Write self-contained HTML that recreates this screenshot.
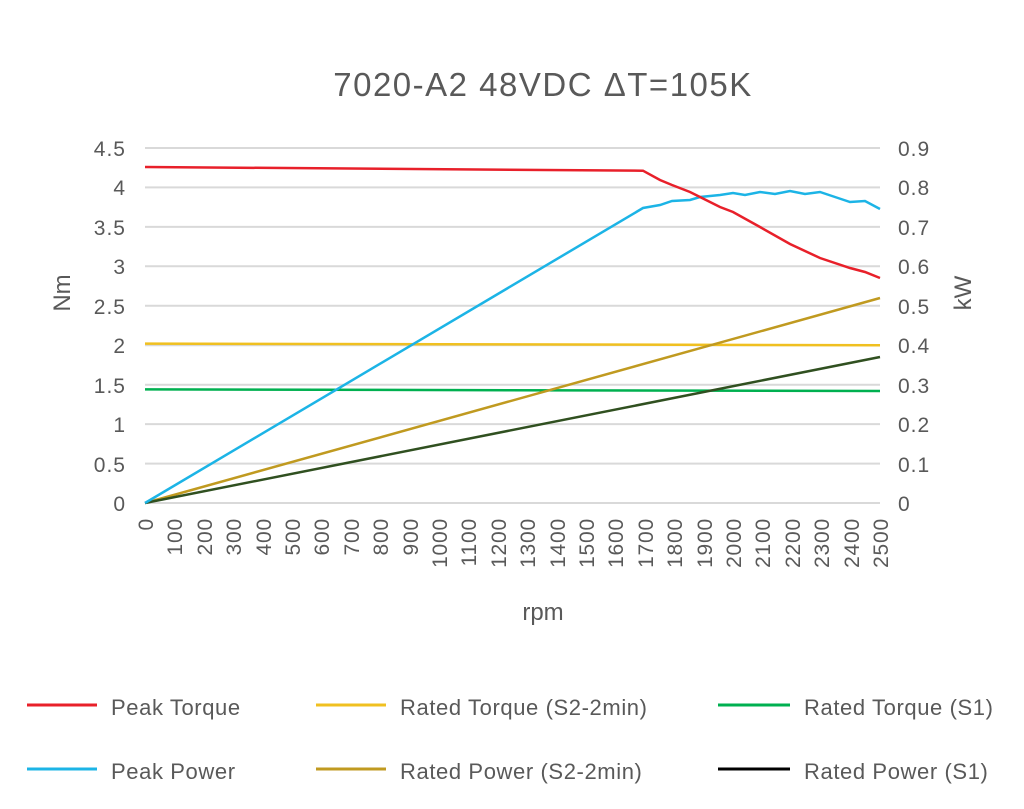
<!DOCTYPE html><html><head><style>body{margin:0;background:#fff}svg text{font-family:"Liberation Sans",sans-serif;fill:#595959}</style></head><body>
<svg width="1024" height="804" xmlns="http://www.w3.org/2000/svg">
<text x="543" y="96" font-size="33" text-anchor="middle" letter-spacing="1.5">7020-A2 48VDC ΔT=105K</text>
<g stroke="#d9d9d9" stroke-width="2">
<line x1="145" x2="880" y1="148" y2="148"/><line x1="145" x2="880" y1="187.4" y2="187.4"/><line x1="145" x2="880" y1="226.9" y2="226.9"/><line x1="145" x2="880" y1="266.3" y2="266.3"/><line x1="145" x2="880" y1="305.8" y2="305.8"/><line x1="145" x2="880" y1="345.2" y2="345.2"/><line x1="145" x2="880" y1="384.7" y2="384.7"/><line x1="145" x2="880" y1="424.1" y2="424.1"/><line x1="145" x2="880" y1="463.6" y2="463.6"/><line x1="145" x2="880" y1="503" y2="503"/>
</g>
<g font-size="21" text-anchor="end" letter-spacing="1">
<text x="126" y="156">4.5</text><text x="126" y="195">4</text><text x="126" y="235">3.5</text><text x="126" y="274">3</text><text x="126" y="314">2.5</text><text x="126" y="353">2</text><text x="126" y="393">1.5</text><text x="126" y="432">1</text><text x="126" y="472">0.5</text><text x="126" y="511">0</text>
</g>
<g font-size="21" letter-spacing="1">
<text x="898" y="156">0.9</text><text x="898" y="195">0.8</text><text x="898" y="235">0.7</text><text x="898" y="274">0.6</text><text x="898" y="314">0.5</text><text x="898" y="353">0.4</text><text x="898" y="393">0.3</text><text x="898" y="432">0.2</text><text x="898" y="472">0.1</text><text x="898" y="511">0</text>
</g>
<text font-size="24" transform="translate(70,293) rotate(-90)" text-anchor="middle">Nm</text>
<text font-size="24" transform="translate(971,293) rotate(-90)" text-anchor="middle">kW</text>
<text x="543" y="620" font-size="24" text-anchor="middle">rpm</text>
<g fill="none" stroke-width="2.5">
<polyline stroke="#f0c020" points="145,343.6 880,345.2"/>
<polyline stroke="#00b050" points="145,389.4 880,391"/>
<polyline stroke="#c09a20" points="145,503 880,298"/>
<polyline stroke="#305020" points="145,503 880,357"/>
<polyline stroke="#1cb4e6" points="145,503 643,208 660,205 672,201 690,200 700,197 720,195 733,193 745,195 760,192 775,194 790,191 805,194 820,192 835,197 850,202 865,201 880,209"/>
<polyline stroke="#e8202a" points="145,167 643,170.7 660,180 672,185 690,192 700,197 720,207 733,212 760,227 790,244 820,258 850,268 865,272 880,278"/>
</g>
<g stroke-width="3">
<line x1="27" x2="97" y1="705" y2="705" stroke="#e8202a"/><line x1="316" x2="386" y1="705" y2="705" stroke="#f0c020"/><line x1="718" x2="790" y1="705" y2="705" stroke="#00b050"/>
<line x1="27" x2="97" y1="769" y2="769" stroke="#1cb4e6"/><line x1="316" x2="386" y1="769" y2="769" stroke="#c09a20"/><line x1="718" x2="790" y1="769" y2="769" stroke="#000"/>
</g>
<g font-size="22" letter-spacing="0.6">
<text x="111" y="715">Peak Torque</text><text x="400" y="715">Rated Torque (S2-2min)</text><text x="804" y="715">Rated Torque (S1)</text>
<text x="111" y="779">Peak Power</text><text x="400" y="779">Rated Power (S2-2min)</text><text x="804" y="779">Rated Power (S1)</text>
</g>
<g font-size="21" text-anchor="end" letter-spacing="0.8">
<text transform="translate(153,518) rotate(-90)">0</text><text transform="translate(182,518) rotate(-90)">100</text><text transform="translate(212,518) rotate(-90)">200</text><text transform="translate(241,518) rotate(-90)">300</text><text transform="translate(271,518) rotate(-90)">400</text><text transform="translate(300,518) rotate(-90)">500</text><text transform="translate(329,518) rotate(-90)">600</text><text transform="translate(359,518) rotate(-90)">700</text><text transform="translate(388,518) rotate(-90)">800</text><text transform="translate(418,518) rotate(-90)">900</text><text transform="translate(447,518) rotate(-90)">1000</text><text transform="translate(476,518) rotate(-90)">1100</text><text transform="translate(506,518) rotate(-90)">1200</text><text transform="translate(535,518) rotate(-90)">1300</text><text transform="translate(565,518) rotate(-90)">1400</text><text transform="translate(594,518) rotate(-90)">1500</text><text transform="translate(623,518) rotate(-90)">1600</text><text transform="translate(653,518) rotate(-90)">1700</text><text transform="translate(682,518) rotate(-90)">1800</text><text transform="translate(712,518) rotate(-90)">1900</text><text transform="translate(741,518) rotate(-90)">2000</text><text transform="translate(770,518) rotate(-90)">2100</text><text transform="translate(800,518) rotate(-90)">2200</text><text transform="translate(829,518) rotate(-90)">2300</text><text transform="translate(859,518) rotate(-90)">2400</text><text transform="translate(888,518) rotate(-90)">2500</text>
</g>
</svg></body></html>
